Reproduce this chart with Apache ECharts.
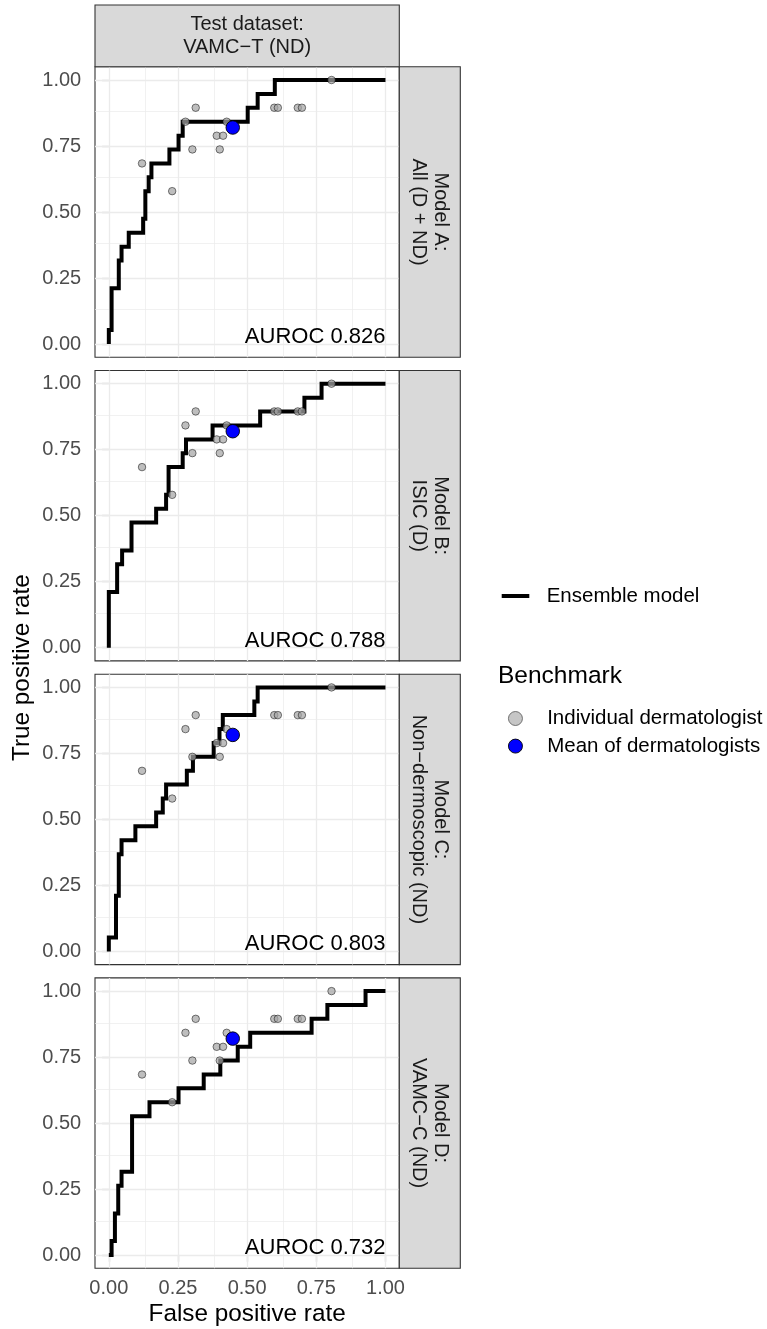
<!DOCTYPE html>
<html>
<head>
<meta charset="utf-8">
<script src="https://cdn.jsdelivr.net/npm/echarts@6/dist/echarts.min.js"></script>
<style>
  html, body { margin: 0; padding: 0; background: #ffffff; }
  #chart { width: 767px; height: 1329px; }
</style>
</head>
<body>
<div id="chart"></div>
<script>
// ---- data -------------------------------------------------------------
const testDataset = 'Test dataset:\nVAMC\u2212T (ND)';
const modelLabels = [
  'Model A:\nAll (D + ND)',
  'Model B:\nISIC (D)',
  'Model C:\nNon\u2212dermoscopic (ND)',
  'Model D:\nVAMC\u2212C (ND)'
];
const aurocs = [0.826, 0.788, 0.803, 0.732];

// ROC operating points of the ensemble model (false / true positive rate)
const rocFprA = [0, 0, 0.01, 0.036, 0.046, 0.072, 0.124, 0.132, 0.144, 0.154, 0.219, 0.252, 0.267, 0.502, 0.538, 0.6, 1];
const rocTprA = [0, 0.053, 0.211, 0.316, 0.368, 0.421, 0.474, 0.579, 0.632, 0.684, 0.737, 0.789, 0.842, 0.895, 0.947, 1, 1];

const rocFprB = [0, 0, 0.03, 0.048, 0.082, 0.171, 0.207, 0.216, 0.267, 0.279, 0.375, 0.547, 0.707, 0.769, 1];
const rocTprB = [0, 0.211, 0.316, 0.368, 0.474, 0.526, 0.579, 0.684, 0.737, 0.789, 0.842, 0.895, 0.947, 1, 1];

const rocFprC = [0, 0, 0.026, 0.036, 0.046, 0.096, 0.171, 0.195, 0.207, 0.282, 0.304, 0.379, 0.4, 0.412, 0.526, 0.538, 1];
const rocTprC = [0, 0.053, 0.211, 0.368, 0.421, 0.474, 0.526, 0.579, 0.632, 0.684, 0.737, 0.789, 0.842, 0.895, 0.947, 1, 1];

const rocFprD = [0, 0.01, 0.022, 0.034, 0.046, 0.084, 0.147, 0.252, 0.343, 0.403, 0.466, 0.511, 0.733, 0.79, 0.928, 1];
const rocTprD = [0, 0.053, 0.158, 0.263, 0.316, 0.526, 0.579, 0.632, 0.684, 0.737, 0.789, 0.842, 0.895, 0.947, 1, 1];

// individual dermatologists (same readers in every panel)
const dermFpr = [0.805, 0.314, 0.277, 0.598, 0.611, 0.683, 0.698, 0.426, 0.39, 0.413, 0.302, 0.401, 0.12, 0.229];
const dermTpr = [1.0, 0.895, 0.842, 0.895, 0.895, 0.895, 0.895, 0.842, 0.789, 0.789, 0.737, 0.737, 0.684, 0.579];

// mean of dermatologists
const meanFpr = [0.448];
const meanTpr = [0.82];

// axis breaks
const tickValues = [0, 0.25, 0.5, 0.75, 1];
const minorBreaks = [0.125, 0.375, 0.625, 0.875];

// ---- layout -----------------------------------------------------------
const FONT = '"Liberation Sans", Arial, Helvetica, sans-serif';
const panelLeft = 95;
const panelWidth = 304.3;
const panelTop0 = 66.8;
const panelHeight = 290.4;
const panelStep = 303.7;
const stripSize = 61;
const topStripY = 5;

const readerStyle = { color: 'rgba(165,165,165,0.72)', borderColor: 'rgba(0,0,0,0.7)', borderWidth: 0.7, opacity: 1 };
const meanStyle = { color: '#0000FF', borderColor: '#000000', borderWidth: 0.9, opacity: 1 };

const rocSets = [
  [rocFprA, rocTprA],
  [rocFprB, rocTprB],
  [rocFprC, rocTprC],
  [rocFprD, rocTprD]
];

const pairs = (xs, ys) => xs.map((x, i) => [x, ys[i]]);

const grids = [], xAxes = [], yAxes = [], series = [];
const graphics = [];

const gridLineData = [];
tickValues.forEach(v => {
  gridLineData.push({ xAxis: v, lineStyle: { width: 1.3, color: '#EBEBEB', type: 'solid' } });
  gridLineData.push({ yAxis: v, lineStyle: { width: 1.3, color: '#EBEBEB', type: 'solid' } });
});
minorBreaks.forEach(v => {
  gridLineData.push({ xAxis: v, lineStyle: { width: 0.7, color: '#EBEBEB', type: 'solid' } });
  gridLineData.push({ yAxis: v, lineStyle: { width: 0.7, color: '#EBEBEB', type: 'solid' } });
});

rocSets.forEach(([fx, ty], i) => {
  const top = panelTop0 + i * panelStep;
  const last = i === rocSets.length - 1;
  grids.push({
    left: panelLeft, top: top, width: panelWidth, height: panelHeight,
    show: true, backgroundColor: '#ffffff', borderColor: '#333333', borderWidth: 1.1
  });
  xAxes.push({
    gridIndex: i, type: 'value', min: -0.05, max: 1.05,
    axisLine: { show: false }, splitLine: { show: false },
    axisTick: { show: last, customValues: tickValues, length: 6.7, lineStyle: { color: '#333333', width: 1.1 } },
    axisLabel: { show: last, customValues: tickValues, formatter: v => v.toFixed(2),
      margin: 10, color: '#4D4D4D', fontSize: 20, fontFamily: FONT }
  });
  yAxes.push({
    gridIndex: i, type: 'value', min: -0.05, max: 1.05,
    axisLine: { show: false }, splitLine: { show: false },
    axisTick: { show: true, customValues: tickValues, length: 6.7, lineStyle: { color: '#333333', width: 1.1 } },
    axisLabel: { show: true, customValues: tickValues, formatter: v => v.toFixed(2),
      margin: 13.8, color: '#4D4D4D', fontSize: 20, fontFamily: FONT }
  });

  // panel grid lines, kept beneath the data
  series.push({
    type: 'line', xAxisIndex: i, yAxisIndex: i, data: [], silent: true, z: 1,
    markLine: { silent: true, z: 1, symbol: ['none', 'none'], label: { show: false },
      animation: false, data: gridLineData }
  });
  // ensemble ROC curve
  series.push({
    name: 'Ensemble model', type: 'line', step: 'end', xAxisIndex: i, yAxisIndex: i,
    data: pairs(fx, ty), showSymbol: false, symbol: 'none', z: 2,
    lineStyle: { color: '#000000', width: 4, cap: 'butt', join: 'miter' },
    itemStyle: { color: '#000000' }
  });
  // individual readers
  series.push({
    name: 'Individual dermatologist', type: 'scatter', xAxisIndex: i, yAxisIndex: i,
    data: pairs(dermFpr, dermTpr), symbol: 'circle', symbolSize: 7.5, z: 3,
    itemStyle: readerStyle
  });
  // reader mean
  series.push({
    name: 'Mean of dermatologists', type: 'scatter', xAxisIndex: i, yAxisIndex: i,
    data: pairs(meanFpr, meanTpr), symbol: 'circle', symbolSize: 13.5, z: 4,
    itemStyle: meanStyle
  });
  // AUROC annotation anchored at (1, 0)
  series.push({
    type: 'scatter', xAxisIndex: i, yAxisIndex: i, data: [[1, 0]], symbolSize: 0.01,
    silent: true, z: 5, itemStyle: { opacity: 1 },
    label: { show: true, position: [0, 0], align: 'right', verticalAlign: 'bottom',
      offset: [0, 4], formatter: 'AUROC ' + aurocs[i].toFixed(3),
      color: '#000000', fontSize: 22, fontFamily: FONT }
  });

  // right-hand facet strip
  graphics.push({
    type: 'rect', z: 10,
    shape: { x: panelLeft + panelWidth, y: top, width: stripSize, height: panelHeight },
    style: { fill: '#D9D9D9', stroke: '#333333', lineWidth: 1.1 }
  });
  graphics.push({
    type: 'text', z: 11,
    x: panelLeft + panelWidth + stripSize / 2, y: top + panelHeight / 2,
    rotation: -Math.PI / 2,
    style: { text: modelLabels[i], fill: '#1A1A1A', fontSize: 20, fontFamily: FONT,
      lineHeight: 22, align: 'center', verticalAlign: 'middle',
      textAlign: 'center', textVerticalAlign: 'middle' }
  });
});

// top facet strip
graphics.push({
  type: 'rect', z: 10,
  shape: { x: panelLeft, y: topStripY, width: panelWidth, height: panelTop0 - topStripY },
  style: { fill: '#D9D9D9', stroke: '#333333', lineWidth: 1.1 }
});
graphics.push({
  type: 'text', z: 11,
  x: panelLeft + panelWidth / 2, y: (topStripY + panelTop0) / 2,
  style: { text: testDataset, fill: '#1A1A1A', fontSize: 20, fontFamily: FONT,
    lineHeight: 23, align: 'center', verticalAlign: 'middle',
    textAlign: 'center', textVerticalAlign: 'middle' }
});

// axis titles
const plotBottom = panelTop0 + 3 * panelStep + panelHeight;
graphics.push({
  type: 'text', z: 11,
  x: panelLeft + panelWidth / 2, y: 1314,
  style: { text: 'False positive rate', fill: '#000000', fontSize: 24.3, fontFamily: FONT,
    align: 'center', verticalAlign: 'middle', textAlign: 'center', textVerticalAlign: 'middle' }
});
graphics.push({
  type: 'text', z: 11,
  x: 22, y: (panelTop0 + plotBottom) / 2,
  rotation: Math.PI / 2,
  style: { text: 'True positive rate', fill: '#000000', fontSize: 24.3, fontFamily: FONT,
    align: 'center', verticalAlign: 'middle', textAlign: 'center', textVerticalAlign: 'middle' }
});
// legend title
graphics.push({
  type: 'text', z: 11,
  x: 498, y: 676,
  style: { text: 'Benchmark', fill: '#000000', fontSize: 24.5, fontFamily: FONT,
    align: 'left', verticalAlign: 'middle', textAlign: 'left', textVerticalAlign: 'middle' }
});

const option = {
  animation: false,
  backgroundColor: '#ffffff',
  textStyle: { fontFamily: FONT },
  grid: grids,
  xAxis: xAxes,
  yAxis: yAxes,
  legend: [
    {
      data: [{ name: 'Ensemble model', icon: 'rect' }],
      selectedMode: false, left: 501.7, top: 585.5, padding: 0,
      itemWidth: 27.6, itemHeight: 4,
      textStyle: { fontSize: 20.5, fontFamily: FONT, color: '#000000',
        padding: [0, 0, 0, 12.4] }
    },
    {
      data: [
        { name: 'Individual dermatologist', icon: 'circle',
          itemStyle: { color: '#C6C6C6', borderColor: '#555555', borderWidth: 0.8 } },
        { name: 'Mean of dermatologists', icon: 'circle',
          itemStyle: { color: '#0000FF', borderColor: '#000000', borderWidth: 0.9 } }
      ],
      orient: 'vertical', selectedMode: false, left: 508, top: 708, padding: 0,
      itemWidth: 53.4, itemHeight: 14, itemGap: 6.6,
      textStyle: { fontSize: 20.5, fontFamily: FONT, color: '#000000' }
    }
  ],
  graphic: graphics,
  series: series
};

const chart = echarts.init(document.getElementById('chart'), null, { renderer: 'canvas', width: 767, height: 1329 });
chart.setOption(option);
</script>
</body>
</html>
